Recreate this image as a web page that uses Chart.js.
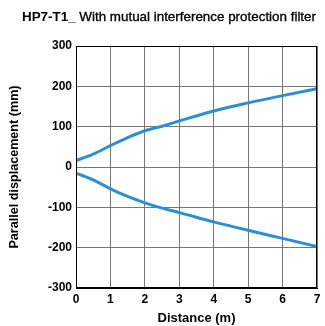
<!DOCTYPE html>
<html>
<head>
<meta charset="utf-8">
<script src="https://cdn.jsdelivr.net/npm/chart.js@4"></script>
<style>
  html, body { margin: 0; padding: 0; background: #fff; }
  #wrap { position: relative; width: 325px; height: 326px; }
  #title {
    position: absolute; left: 22px; top: 9px; white-space: nowrap;
    font: 13.4px "Liberation Sans", Arial, sans-serif; color: #000;
    -webkit-text-stroke: 0.35px #000;
  }
  #title b { font-weight: bold; -webkit-text-stroke: 0; }
</style>
</head>
<body>
<div id="wrap">
  <div id="title"><b>HP7-T1_</b> With mutual interference protection filter</div>
  <canvas id="chart" width="325" height="326"></canvas>
</div>
<script>
// distance in metres
const distances = [0, 0.5, 1, 1.5, 2, 2.5, 3, 4, 5, 6, 7];
// parallel displacement (mm)
const upperValues = [16, 32, 53, 73, 90, 101, 114, 139, 159, 177, 194];
const lowerValues = [-15, -32, -54, -73, -89, -102, -113, -136, -157, -177, -197];
const yTicks = [-300, -200, -100, 0, 100, 200, 300];

const lineColor = '#2b8fd7';

function toPoints(xs, ys) {
    return xs.map((x, i) => ({ x: x, y: ys[i] }));
}

const ctx = document.getElementById('chart').getContext('2d');
new Chart(ctx, {
    type: 'line',
    data: {
        datasets: [
            {
                label: 'upper',
                data: toPoints(distances, upperValues),
                borderColor: lineColor,
                borderWidth: 3,
                pointRadius: 0,
                cubicInterpolationMode: 'monotone',
                fill: false
            },
            {
                label: 'lower',
                data: toPoints(distances, lowerValues),
                borderColor: lineColor,
                borderWidth: 3,
                pointRadius: 0,
                cubicInterpolationMode: 'monotone',
                fill: false
            }
        ]
    },
    options: {
        responsive: false,
        animation: false,
        layout: { padding: { top: 46, right: 8, left: 0, bottom: 0 } },
        plugins: {
            legend: { display: false },
            tooltip: { enabled: false }
        },
        scales: {
            x: {
                type: 'linear',
                min: 0,
                max: 7,
                afterFit: (scale) => { scale.height = 38; },
                ticks: {
                    stepSize: 1,
                    padding: 4,
                    color: '#000',
                    font: { family: 'Liberation Sans', size: 12, weight: 'bold' }
                },
                grid: { color: '#777', lineWidth: 1, drawTicks: false },
                border: { color: '#000', width: 1 },
                title: {
                    display: true,
                    text: 'Distance (m)',
                    color: '#000',
                    padding: { top: 1, bottom: 0 },
                    font: { family: 'Liberation Sans', size: 13, weight: 'bold' }
                }
            },
            y: {
                min: -300,
                max: 300,
                afterFit: (scale) => { scale.width = 76; },
                afterBuildTicks: (scale) => { scale.ticks = yTicks.map(v => ({ value: v })); },
                ticks: {
                    padding: 4,
                    color: '#000',
                    font: { family: 'Liberation Sans', size: 12, weight: 'bold' }
                },
                grid: { color: '#777', lineWidth: 1, drawTicks: false },
                border: { color: '#000', width: 1 },
                title: {
                    display: true,
                    text: 'Parallel displacement (mm)',
                    color: '#000',
                    padding: { top: 7, bottom: 0 },
                    font: { family: 'Liberation Sans', size: 12.6, weight: 'bold' }
                }
            }
        }
    },
    plugins: [{
        id: 'frame',
        afterDraw(chart) {
            const a = chart.chartArea;
            const c = chart.ctx;
            c.save();
            c.strokeStyle = '#000';
            c.lineWidth = 1;
            c.strokeRect(a.left + 0.5, a.top + 0.5, a.width - 1, a.height - 1);
            c.restore();
        }
    }]
});
</script>
</body>
</html>
